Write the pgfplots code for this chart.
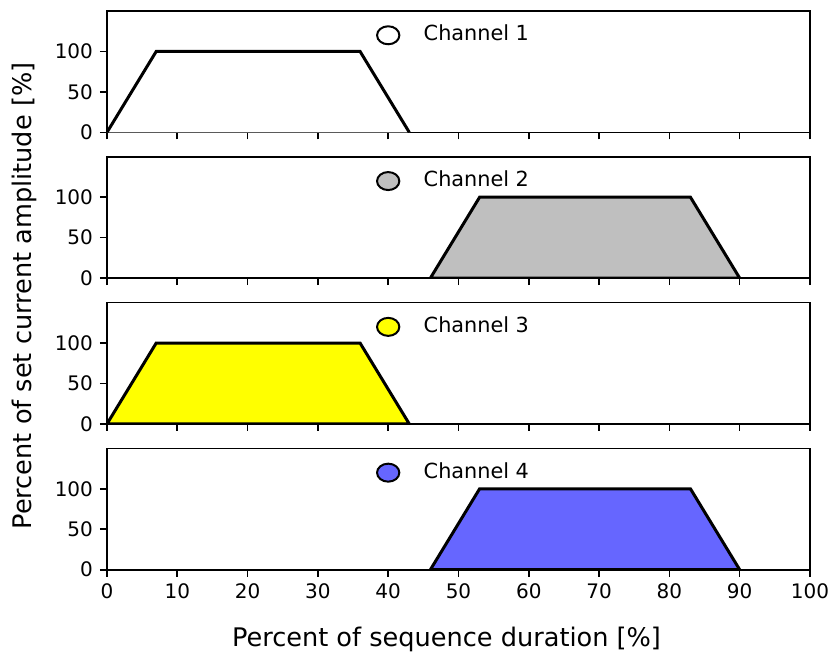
\documentclass[border=0pt]{standalone}
\usepackage{pgfplots}
\pgfplotsset{compat=1.18}
\usepackage{fontspec}
\setmainfont{DejaVu Sans}
\definecolor{chgray}{HTML}{BFBFBF}
\definecolor{chyellow}{HTML}{FFFF00}
\definecolor{chblue}{HTML}{6666FF}
\pgfplotsset{
  panel/.style={
    scale only axis, width=351.5pt, height=60.65pt,
    xmin=0, xmax=100, ymin=0, ymax=150,
    xtick={0,10,...,100}, ytick={0,50,100},
    tick align=outside, tick pos=left,
    major tick length=3.5pt,
    axis line style={line width=0.8pt, black},
    every tick/.style={line width=0.8pt, black},
    /pgf/number format/assume math mode=true,
    tick label style={font=\fontsize{10}{12}\selectfont},
    anchor=north west,
  },
  trap/.style={draw=black, line width=1.5pt, line join=miter},
  dot/.style={only marks, mark=*, mark size=4.5pt,
    mark options={xscale=1.24, draw=black, line width=1pt, fill=#1}},
}
\newcommand{\chlabel}[1]{\node[anchor=base west, inner sep=0pt, font=\fontsize{10.4}{12}\selectfont] at (axis cs:45,113) {#1};}
\begin{document}
\begin{tikzpicture}
\begin{axis}[panel, at={(0pt,0pt)}, xticklabels={}]
  \addplot[trap, fill=white] coordinates {(0,0) (7,100) (36,100) (43,0)};
  \addplot[dot=white] coordinates {(40,120)};
  \chlabel{Channel 1}
\end{axis}
\begin{axis}[panel, at={(0pt,-72.9pt)}, xticklabels={}]
  \addplot[trap, fill=chgray] coordinates {(46,0) (53,100) (83,100) (90,0)} -- cycle;
  \addplot[dot=chgray] coordinates {(40,120)};
  \chlabel{Channel 2}
\end{axis}
\begin{axis}[panel, at={(0pt,-145.8pt)}, xticklabels={}]
  \addplot[trap, fill=chyellow] coordinates {(0,0) (7,100) (36,100) (43,0)} -- cycle;
  \addplot[dot=chyellow] coordinates {(40,120)};
  \chlabel{Channel 3}
\end{axis}
\begin{axis}[panel, at={(0pt,-218.7pt)}]
  \addplot[trap, fill=chblue] coordinates {(46,0) (53,100) (83,100) (90,0)} -- cycle;
  \addplot[dot=chblue] coordinates {(40,120)};
  \chlabel{Channel 4}
\end{axis}
\node[rotate=90, anchor=base, font=\fontsize{12.8}{15}\selectfont] at (-37.5pt,-142.5pt) {Percent of set current amplitude [\%]};
\node[anchor=base, font=\fontsize{12.8}{15}\selectfont] at (169.75pt,-317.5pt) {Percent of sequence duration [\%]};
\pgfresetboundingbox
\path (-53.5pt,5.5pt) rectangle (362.5pt,-322pt);
\end{tikzpicture}
\end{document}
